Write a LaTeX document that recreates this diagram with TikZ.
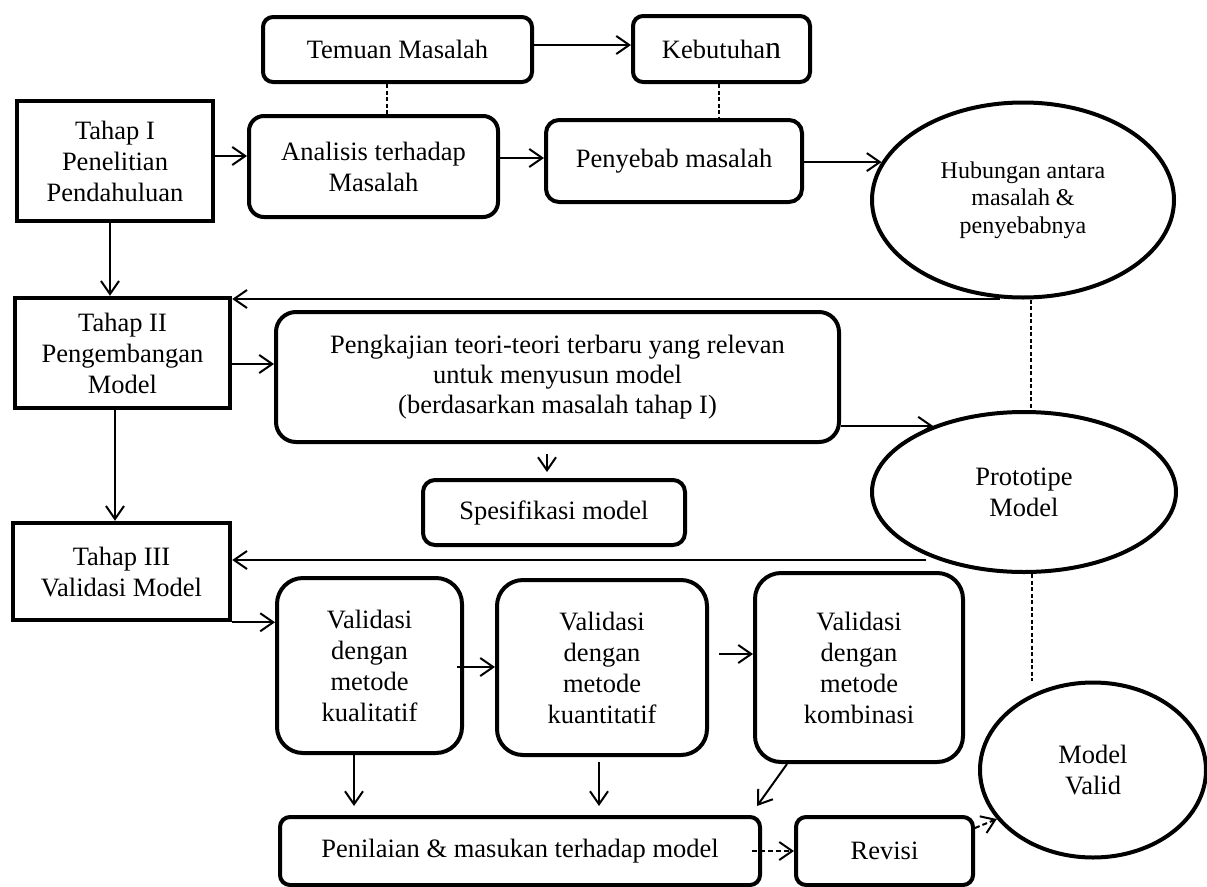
\documentclass[tikz,border=0pt]{standalone}
\usepackage{fontspec}
\setmainfont{Liberation Serif}
\usetikzlibrary{arrows.meta,shapes.geometric}
\begin{document}
\begin{tikzpicture}[x=1pt,y=-1pt,
  txt/.style={align=center, inner sep=0pt, font=\fontsize{26.5}{31}\selectfont},
  box/.style={txt, draw, line width=4pt, rounded corners=10pt},
  sq/.style={txt, draw, line width=4.5pt},
  ell/.style={txt, draw, ellipse, line width=4pt},
  arr/.style={line width=2pt, -{Straight Barb[length=13pt,width=18pt,line width=2pt]}},
  darr/.style={arr, dash pattern=on 5pt off 3pt},
  dashline/.style={line width=1.5pt, dash pattern=on 4pt off 2.5pt}]
\useasboundingbox (0,0) rectangle (1207,886);
\clip (0,0) rectangle (1207,886);
\fill[white] (0,0) rectangle (1207,886);

% nodes
\node[box, minimum width=269pt, minimum height=65pt] (tem) at (397.5,49.5) {Temuan Masalah};
\node[box, minimum width=177pt, minimum height=66pt] (keb) at (721.5,49) {Kebutuha{\fontsize{32}{31}\selectfont n}};
\node[sq, minimum width=196pt, minimum height=120pt] (t1) at (115,161) {Tahap I\\Penelitian\\Pendahuluan};
\node[box, rounded corners=15pt, minimum width=249pt, minimum height=101pt] (ana) at (373.5,166.5) {Analisis terhadap\\Masalah};
\node[box, rounded corners=13pt, minimum width=256pt, minimum height=82pt] (pen) at (674,161) {Penyebab masalah};
\node[ell, minimum width=302pt, minimum height=195pt, font=\fontsize{24}{27.5}\selectfont] (hub) at (1023,200) {Hubungan antara\\masalah \&\\penyebabnya};
\node[sq, minimum width=215pt, minimum height=110pt] (t2) at (122.5,353) {Tahap II\\Pengembangan\\Model};
\node[box, rounded corners=20pt, minimum width=563pt, minimum height=130pt, font=\fontsize{26.5}{30}\selectfont] (kaj) at (557.5,377) {Pengkajian teori-teori terbaru yang relevan\\untuk menyusun model\\(berdasarkan masalah tahap I)};
\node[box, rounded corners=12pt, minimum width=262pt, minimum height=65pt] (spe) at (554,512.5) {Spesifikasi model};
\node[ell, minimum width=304pt, minimum height=160pt] (pro) at (1024,492) {Prototipe\\Model};
\node[sq, minimum width=217pt, minimum height=97pt] (t3) at (121.5,571.5) {Tahap III\\Validasi Model};
\node[box, rounded corners=26pt, minimum width=185pt, minimum height=175pt] (kual) at (369.5,665.5) {Validasi\\dengan\\metode\\kualitatif};
\node[box, rounded corners=26pt, minimum width=210pt, minimum height=175pt] (kuan) at (602,667.5) {Validasi\\dengan\\metode\\kuantitatif};
\node[box, rounded corners=26pt, minimum width=208pt, minimum height=189pt] (komb) at (859,667.5) {Validasi\\dengan\\metode\\kombinasi};
\node[box, minimum width=480pt, minimum height=68pt] (nil) at (520,851) {Penilaian \& masukan terhadap model};
\node[box, minimum width=177pt, minimum height=68pt] (rev) at (884.5,851) {Revisi};
\node[ell, minimum width=226pt, minimum height=175pt] (val) at (1093,770) {Model\\Valid};

% connectors
\coordinate (fb1) at (1000,299);
\coordinate (fb2) at (926,560);
\draw[arr] (tem.east |- 0,45) -- (keb.west |- 0,45);
\draw[dashline] (387,0 |- tem.south) -- (387,0 |- ana.north);
\draw[dashline] (719,0 |- keb.south) -- (719,0 |- pen.north);
\draw[arr] (t1.east |- 0,156) -- (ana.west |- 0,156);
\draw[arr] (ana.east |- 0,158) -- (pen.west |- 0,158);
\draw[arr] (pen.east |- hub.165) -- (hub.165);
\draw[arr] (110,0 |- t1.south) -- (110,0 |- t2.north);
\draw[arr] (fb1) -- (t2.north east |- fb1);
\draw[dashline] (1031,0 |- hub.south) -- (1031,0 |- pro.north);
\draw[arr] (t2.east |- 0,364) -- (kaj.west |- 0,364);
\draw[arr] (kaj.east |- pro.144) -- (pro.144);
\draw[arr, shorten <=10pt, shorten >=6pt] (547,0 |- kaj.south) -- (547,0 |- spe.north);
\draw[arr] (115,0 |- t2.south) -- (115,0 |- t3.north);
\draw[arr] (fb2) -- (t3.east |- fb2);
\draw[dashline] (1032,0 |- pro.south) -- (1032,0 |- val.north);
\draw[arr] (t3.south east) -- (kual.west |- t3.south east);
\draw[arr, shorten <=-7pt] (kual.east |- 0,667) -- (kuan.west |- 0,667);
\draw[arr, shorten <=10pt] (kuan.east |- 0,654) -- (komb.west |- 0,654);
\draw[arr, shorten >=9pt] (354,0 |- kual.south) -- (354,0 |- nil.north);
\draw[arr, shorten <=5pt, shorten >=9pt] (599,0 |- kuan.south) -- (599,0 |- nil.north);
\draw[arr] (787,0 |- komb.south) -- ([xshift=-5pt,yshift=9pt]nil.north east);
\draw[darr] ([xshift=-10pt]nil.east) -- (rev.west);
\draw[darr] ([yshift=-13pt]rev.north east) -- (val.207);
\end{tikzpicture}
\end{document}
